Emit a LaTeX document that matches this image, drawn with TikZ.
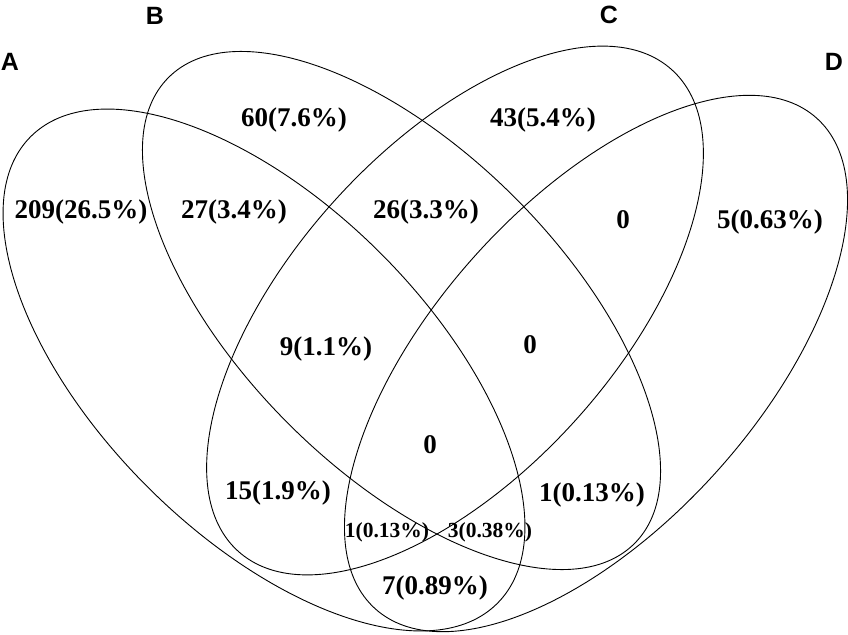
\documentclass[tikz,border=0pt]{standalone}
\usepackage{fontspec}
\setmainfont{Liberation Serif}
\newfontfamily\labfont{Liberation Sans}
\begin{document}
\begin{tikzpicture}[x=1pt,y=-1pt,
  venn/.style={draw=black, line width=0.9pt},
  num/.style={font=\bfseries\fontsize{27}{27}\selectfont, inner sep=0pt},
  numsm/.style={font=\bfseries\fontsize{21.5}{21.5}\selectfont, inner sep=0pt},
  setlab/.style={font=\labfont\bfseries\fontsize{25}{25}\selectfont, inner sep=0pt}]
\useasboundingbox (0,0) rectangle (848,634);
% ellipses
\draw[venn, shift={(264,370)}, rotate=-45] (0,0) ellipse [x radius=330pt, y radius=165pt];
\draw[venn, shift={(401.5,310.5)}, rotate=-45] (0,0) ellipse [x radius=329.5pt, y radius=160pt];
\draw[venn, shift={(455,310.5)}, rotate=48] (0,0) ellipse [x radius=324pt, y radius=163pt];
\draw[venn, shift={(596,363.5)}, rotate=48] (0,0) ellipse [x radius=330pt, y radius=162pt];
% set labels
\node[setlab] (lA) at (10,62) {A};
\node[setlab] (lB) at (155,16) {B};
\node[setlab] (lC) at (609,15) {C};
\node[setlab] (lD) at (834,62) {D};
% region counts
\node[num] (r1) at (294,120) {60(7.6\%)};
\node[num] (r2) at (543,120) {43(5.4\%)};
\node[num] (r3) at (81,212) {209(26.5\%)};
\node[num] (r4) at (234,212) {27(3.4\%)};
\node[num] (r5) at (426,212) {26(3.3\%)};
\node[num] (r6) at (623,220) {0};
\node[num] (r7) at (770,222) {5(0.63\%)};
\node[num] (r8) at (326,349) {9(1.1\%)};
\node[num] (r9) at (530,345) {0};
\node[num] (r10) at (430,445) {0};
\node[num] (r11) at (278,493) {15(1.9\%)};
\node[num] (r12) at (592,495) {1(0.13\%)};
\node[numsm] (r13) at (387,532) {1(0.13\%)};
\node[numsm] (r14) at (490,532) {3(0.38\%)};
\node[num] (r15) at (435,588) {7(0.89\%)};
\end{tikzpicture}
\end{document}
